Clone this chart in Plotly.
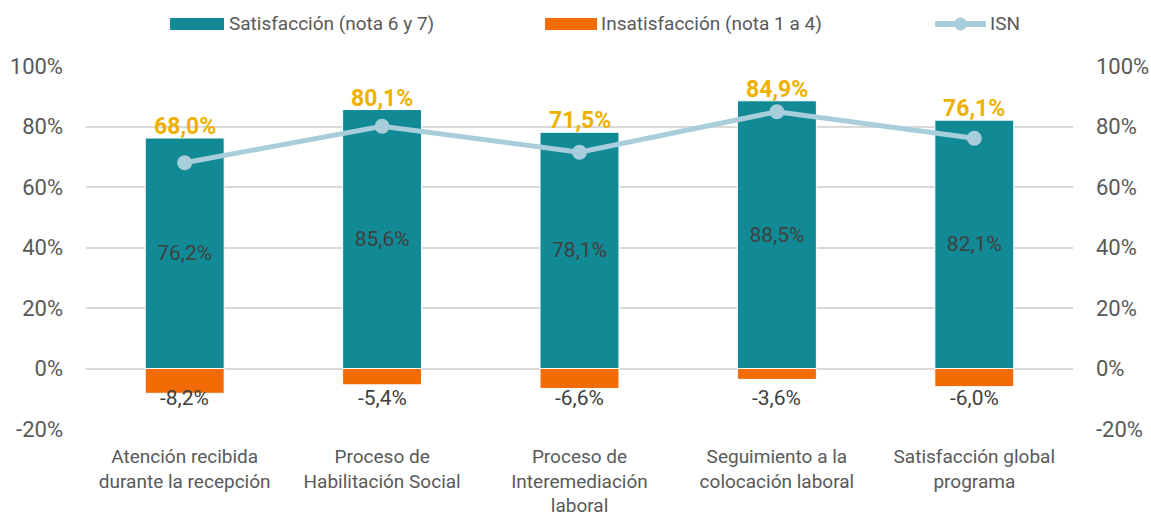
import plotly.graph_objects as go

categories = ["Atención recibida<br>durante la recepción", "Proceso de<br>Habilitación Social",
              "Proceso de<br>Interemediación<br>laboral", "Seguimiento a la<br>colocación laboral",
              "Satisfacción global<br>programa"]
satisfaccion = [0.762, 0.856, 0.781, 0.885, 0.821]
insatisfaccion = [-0.082, -0.054, -0.066, -0.036, -0.060]
isn = [0.680, 0.801, 0.715, 0.849, 0.761]
tick_vals = [-0.2, 0, 0.2, 0.4, 0.6, 0.8, 1.0]
tick_text = ["-20%", "0%", "20%", "40%", "60%", "80%", "100%"]

TEAL = "#118A95"
ORANGE = "#F26B05"
ISN_C = "#A8CEDB"
GOLD = "#EEB100"
DARK = "#404040"
GRAY = "#595959"
FONT = "Roboto, sans-serif"

W, H = 1151, 516
ML, MR, MT, MB = 86, 78, 66, 87
PW, PH = W - ML - MR, H - MT - MB


def px_x(p):
    return (p - ML) / PW


def px_y(p):
    return (H - MB - p) / PH


def fmt(v):
    return f"{v*100:.1f}%".replace(".", ",")


fig = go.Figure()
fig.add_trace(go.Bar(x=categories, y=satisfaccion, name="Satisfacción (nota 6 y 7)",
                     marker=dict(color=TEAL, line=dict(color="white", width=1)),
                     text=[fmt(v) for v in satisfaccion], textposition="inside",
                     insidetextanchor="middle", textangle=0,
                     textfont=dict(color=DARK, size=21, family=FONT)))
fig.add_trace(go.Bar(x=categories, y=insatisfaccion, name="Insatisfacción (nota 1 a 4)",
                     marker=dict(color=ORANGE, line=dict(color="white", width=1))))
fig.add_trace(go.Scatter(x=categories, y=isn, name="ISN", mode="lines+markers",
                         line=dict(color=ISN_C, width=5), marker=dict(color=ISN_C, size=15),
                         yaxis="y2"))

annotations = []
for c, s, v in zip(categories, satisfaccion, isn):
    annotations.append(dict(x=c, y=s, xref="x", yref="y", text=f"<b>{fmt(v)}</b>", showarrow=False,
                            yanchor="bottom", yshift=-4,
                            font=dict(color=GOLD, size=23, family=FONT)))
for c, n in zip(categories, insatisfaccion):
    annotations.append(dict(x=c, y=0, xref="x", yref="y", text=fmt(n), showarrow=False,
                            yanchor="middle", yshift=-29,
                            font=dict(color=DARK, size=21, family=FONT)))

# custom legend
leg_y = px_y(24)
shapes = [
    dict(type="rect", xref="paper", yref="paper", x0=px_x(170), x1=px_x(224),
         y0=px_y(30), y1=px_y(18), fillcolor=TEAL, line=dict(width=0)),
    dict(type="rect", xref="paper", yref="paper", x0=px_x(545), x1=px_x(597),
         y0=px_y(30), y1=px_y(18), fillcolor=ORANGE, line=dict(width=0)),
    dict(type="line", xref="paper", yref="paper", x0=px_x(935), x1=px_x(986),
         y0=leg_y, y1=leg_y, line=dict(color=ISN_C, width=6)),
    dict(type="circle", xref="paper", yref="paper", x0=px_x(954), x1=px_x(967),
         y0=px_y(30.5), y1=px_y(17.5), fillcolor=ISN_C, line=dict(width=0)),
]
for xp, t in [(227, "Satisfacción (nota 6 y 7)"), (599, "Insatisfacción (nota 1 a 4)"), (988, "ISN")]:
    annotations.append(dict(x=px_x(xp), y=leg_y, xref="paper", yref="paper", text=t,
                            showarrow=False, xanchor="left", yanchor="middle",
                            font=dict(color=GRAY, size=19, family=FONT)))

axis_common = dict(range=[-0.2, 1.0], tickvals=tick_vals, ticktext=tick_text,
                   tickfont=dict(color=GRAY, size=22, family=FONT), zeroline=False,
                   fixedrange=True, automargin=False, ticks="")
fig.update_layout(
    width=W, height=H, margin=dict(l=ML, r=MR, t=MT, b=MB, autoexpand=False),
    paper_bgcolor="white", plot_bgcolor="white",
    barmode="relative", bargap=0.6, showlegend=False,
    xaxis=dict(tickfont=dict(color=GRAY, size=19, family=FONT), showgrid=False,
               showline=False, ticks="", automargin=False, fixedrange=True,
               ticklabelstandoff=14),
    yaxis=dict(**axis_common, showgrid=True, gridcolor="#D9D9D9", gridwidth=1.5, ticklabelstandoff=22),
    yaxis2=dict(**axis_common, overlaying="y", side="right", showgrid=False, ticklabelstandoff=22),
    annotations=annotations, shapes=shapes,
    font=dict(family=FONT),
)
fig.write_html("out.html", config={"displayModeBar": False},
               post_script="document.body.style.margin='0';document.body.style.padding='0';")
